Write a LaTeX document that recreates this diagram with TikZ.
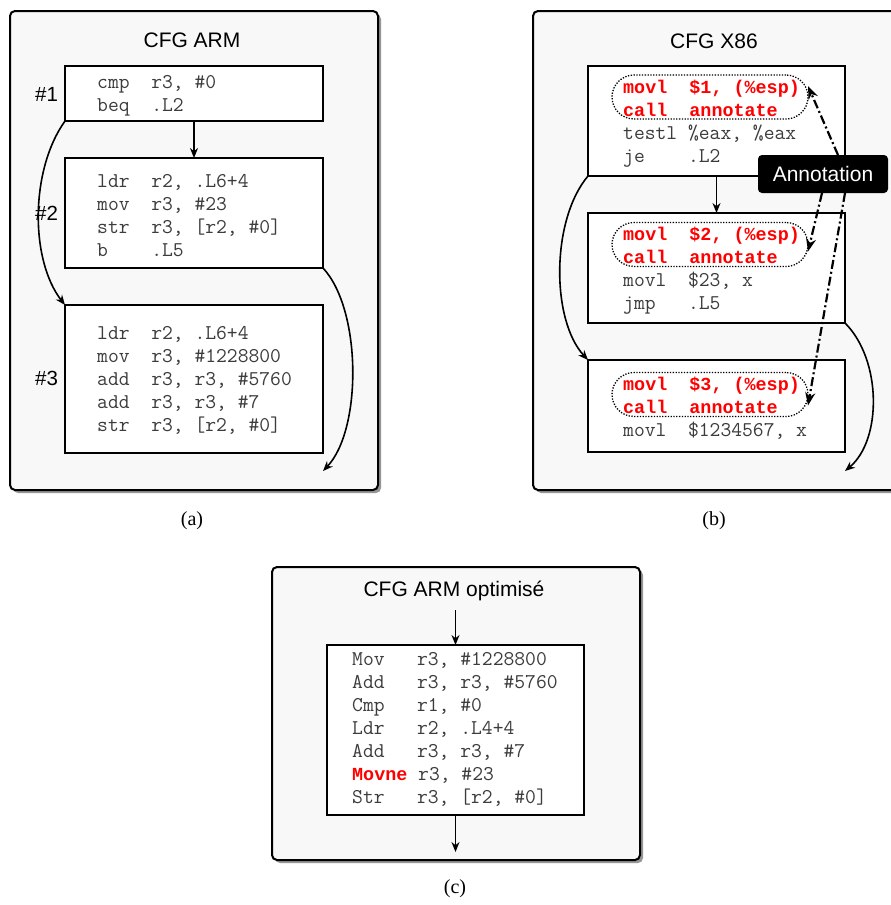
\documentclass[tikz,border=0pt]{standalone}
\usepackage{fontspec}
\newfontfamily\sansf{Liberation Sans}
\newfontfamily\seriff{Liberation Serif}
\newfontfamily\monob{Liberation Mono}
\usetikzlibrary{arrows.meta,calc}
\definecolor{panelbg}{RGB}{248,248,248}
\definecolor{codegray}{RGB}{60,60,60}
\definecolor{shadowgray}{RGB}{150,150,150}
\newcommand{\redop}[1]{\textcolor{red}{\monob\bfseries\fontsize{18.4}{23}\selectfont #1}}
\begin{document}
\begin{tikzpicture}[x=1pt,y=-1pt,
  panel/.style={draw=black, line width=2pt, rounded corners=5pt, fill=panelbg},
  pshadow/.style={fill=shadowgray, rounded corners=5pt},
  blk/.style={draw=black, line width=1.6pt, fill=white, outer sep=0pt, inner sep=0pt},
  code/.style={anchor=base west, inner sep=0pt, font=\ttfamily\fontsize{21}{23}\selectfont, text=codegray},
  redcode/.style={anchor=base west, inner sep=0pt, font=\monob\bfseries\fontsize{18.4}{23}\selectfont, text=red},
  title/.style={anchor=base, inner sep=0pt, font=\sansf\fontsize{21}{25}\selectfont},
  lbl/.style={anchor=base west, inner sep=0pt, font=\sansf\fontsize{20.5}{24}\selectfont},
  captxt/.style={inner sep=0pt, font=\seriff\fontsize{20}{24}\selectfont},
  flow/.style={line width=1.6pt, -{Stealth[length=10pt,width=8pt]}},
  annarrow/.style={line width=2.2pt, dash pattern=on 9pt off 3pt on 2pt off 3pt, -{Stealth[length=13pt,width=10pt]}},
  dotbox/.style={draw=black, line width=1.3pt, dash pattern=on 1.3pt off 1.5pt, rounded corners=22pt, minimum width=196pt, minimum height=44pt, inner sep=0pt, outer sep=0pt},
  annbox/.style={fill=black, text=white, rounded corners=4pt, minimum width=130pt, minimum height=38pt, inner sep=0pt, outer sep=0pt, font=\sansf\fontsize{21}{25}\selectfont}
]
\clip (0,0) rectangle (891,905);
\fill[white] (0,0) rectangle (891,905);

% ---------------- Panel (a) ----------------
\fill[pshadow] (13,14) rectangle (381,493);
\draw[panel] (10,11) rectangle (378,490);
\node[title] (ta) at (192,47.5) {CFG ARM};

\node[blk, minimum width=258pt, minimum height=55pt] (a1) at (194,93.5) {};
\node[blk, minimum width=258pt, minimum height=110pt] (a2) at (194,213) {};
\node[blk, minimum width=258pt, minimum height=148pt] (a3) at (194,379) {};

\foreach \t [count=\i] in {{cmp~~r3,~\#0},{beq~~.L2}}
  \node[code] (a1t\i) at (97,{88+23*(\i-1)}) {\t};
\foreach \t [count=\i] in {{ldr~~r2,~.L6+4},{mov~~r3,~\#23},{str~~r3,~[r2,~\#0]},{b~~~~.L5}}
  \node[code] (a2t\i) at (97,{187+23*(\i-1)}) {\t};
\foreach \t [count=\i] in {{ldr~~r2,~.L6+4},{mov~~r3,~\#1228800},{add~~r3,~r3,~\#5760},{add~~r3,~r3,~\#7},{str~~r3,~[r2,~\#0]}}
  \node[code] (a3t\i) at (97,{339+23*(\i-1)}) {\t};

\node[lbl] (l1) at (35,101.5) {\#1};
\node[lbl] (l2) at (35,220.5) {\#2};
\node[lbl] (l3) at (35,385.5) {\#3};

\coordinate (aend) at (323,471);
\draw[flow] (a1.south) -- (a2.north);
\draw[flow] (a1.south west) .. controls (30,170) and (30,260) .. (a3.north west);
\draw[flow] (a2.south east) .. controls (362,310) and (362,430) .. (aend);

\node[captxt] (capa) at (192,521) {(a)};

% ---------------- Panel (b) ----------------
\fill[pshadow] (536,14) rectangle (910,493);
\draw[panel] (533,11) rectangle (905,490);
\node[title] (tb) at (714,48) {CFG X86};

\node[blk, minimum width=257pt, minimum height=110pt] (b1) at (716.5,121) {};
\node[blk, minimum width=257pt, minimum height=110pt] (b2) at (716.5,268) {};
\node[blk, minimum width=257pt, minimum height=92pt] (b3) at (716.5,406) {};

\node[dotbox] (e1) at (710,97) {};
\node[dotbox] (e2) at (710,244.5) {};
\node[dotbox] (e3) at (710,394.5) {};

\node[redcode] (b1t1) at (623,93) {movl~~\$1,~(\%esp)};
\node[redcode] (b1t2) at (623,116) {call~~annotate};
\node[code] (b1t3) at (623,139) {testl~\%eax,~\%eax};
\node[code] (b1t4) at (623,162) {je~~~~.L2};

\node[redcode] (b2t1) at (623,240) {movl~~\$2,~(\%esp)};
\node[redcode] (b2t2) at (623,263) {call~~annotate};
\node[code] (b2t3) at (623,286) {movl~~\$23,~x};
\node[code] (b2t4) at (623,309) {jmp~~~.L5};

\node[redcode] (b3t1) at (623,390) {movl~~\$3,~(\%esp)};
\node[redcode] (b3t2) at (623,413) {call~~annotate};
\node[code] (b3t3) at (623,436) {movl~~\$1234567,~x};

\coordinate (bend) at (845,471);
\draw[flow] (b1.south) -- (b2.north);
\draw[flow] (b1.south west) .. controls (551,220) and (551,320) .. (b3.north west);
\draw[flow] (b2.south east) .. controls (882,360) and (882,440) .. (bend);

\node[annbox] (ann) at (823,174) {Annotation};
\draw[annarrow] ([xshift=15pt]ann.north) -- ([yshift=11pt]e1.east);
\draw[annarrow] ([xshift=-1pt]ann.south) -- ([yshift=-7pt]e2.east);
\draw[annarrow] ([xshift=22pt]ann.south) -- ([yshift=-11pt]e3.east);

\node[captxt] (capb) at (714,521) {(b)};

% ---------------- Panel (c) ----------------
\fill[pshadow] (275,570) rectangle (643,863);
\draw[panel] (272,567) rectangle (640,860);
\node[title] (tc) at (454,596.5) {CFG ARM optimisé};

\node[blk, minimum width=257pt, minimum height=170pt] (c1) at (455.5,730) {};
\foreach \t [count=\i] in {{Mov~~~r3,~\#1228800},{Add~~~r3,~r3,~\#5760},{Cmp~~~r1,~\#0},{Ldr~~~r2,~.L4+4},{Add~~~r3,~r3,~\#7},{\redop{Movne}~r3,~\#23},{Str~~~r3,~[r2,~\#0]}}
  \node[code] (ct\i) at (352,{665+23*(\i-1)}) {\t};

\coordinate (cin) at (455.5,610);
\coordinate (cout) at (455.5,852);
\draw[flow] (cin) -- (c1.north);
\draw[flow] (c1.south) -- (cout);

\node[captxt] (capc) at (455,889) {(c)};
\end{tikzpicture}
\end{document}
